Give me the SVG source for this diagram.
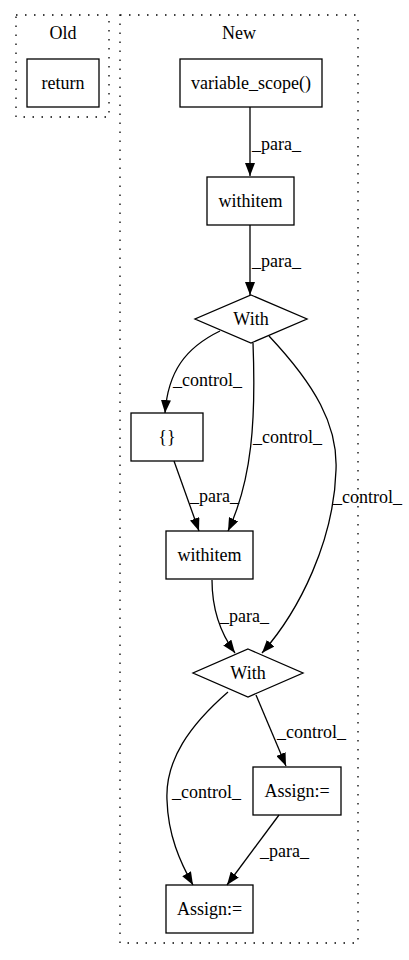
<svg xmlns="http://www.w3.org/2000/svg" width="409" height="960" viewBox="0 0 409 960">
  <style>
    text { font-family: "Liberation Serif", "Times New Roman", serif; font-size: 18px; fill: #000; }
    .c { text-anchor: middle; }
    .cluster { fill: none; stroke: #000; stroke-width: 1.3; stroke-dasharray: 1.5 7.5; }
    .node { fill: #fff; stroke: #000; stroke-width: 1.3; }
    .edge { fill: none; stroke: #000; stroke-width: 1.3; marker-end: url(#arrow); }
  </style>
  <defs>
    <marker id="arrow" markerUnits="userSpaceOnUse" markerWidth="13" markerHeight="10" refX="13" refY="5" orient="auto">
      <path d="M0,0 L13,5 L0,10 z" fill="#000"/>
    </marker>
  </defs>
  <rect width="409" height="960" fill="#fff"/>

  <!-- clusters -->
  <g id="cluster_old">
    <rect class="cluster" x="16" y="15" width="93" height="102"/>
    <text class="c" x="63" y="39">Old</text>
  </g>
  <g id="cluster_new">
    <rect class="cluster" x="120" y="15" width="238" height="928"/>
    <text class="c" x="239" y="39">New</text>
  </g>

  <!-- nodes -->
  <g id="n_return">
    <rect class="node" x="27" y="59" width="72" height="48"/>
    <text class="c" x="63" y="89">return</text>
  </g>
  <g id="n_variable_scope">
    <rect class="node" x="180" y="59" width="142" height="48"/>
    <text class="c" x="251" y="89">variable_scope()</text>
  </g>
  <g id="n_withitem1">
    <rect class="node" x="207" y="177" width="87" height="48"/>
    <text class="c" x="250.5" y="207">withitem</text>
  </g>
  <g id="n_with1">
    <polygon class="node" points="251,295 307,319 251,343 195,319"/>
    <text class="c" x="251" y="325">With</text>
  </g>
  <g id="n_braces">
    <rect class="node" x="131" y="413" width="72" height="48"/>
    <text class="c" x="167" y="443">{}</text>
  </g>
  <g id="n_withitem2">
    <rect class="node" x="166" y="531" width="87" height="48"/>
    <text class="c" x="209.5" y="561">withitem</text>
  </g>
  <g id="n_with2">
    <polygon class="node" points="248,649 303,673 248,697 193,673"/>
    <text class="c" x="248" y="679">With</text>
  </g>
  <g id="n_assign1">
    <rect class="node" x="253" y="767" width="88" height="48"/>
    <text class="c" x="297" y="797">Assign:=</text>
  </g>
  <g id="n_assign2">
    <rect class="node" x="166" y="885" width="87" height="48"/>
    <text class="c" x="209.5" y="915">Assign:=</text>
  </g>

  <!-- connectors -->
  <g id="edges">
    <path class="edge" d="M250,107 L250,176"/>
    <text x="252" y="150">_para_</text>

    <path class="edge" d="M250,225 L250,295"/>
    <text x="252" y="267">_para_</text>

    <path class="edge" d="M220,331 C185,348 168,372 165,413"/>
    <text x="173" y="386">_control_</text>

    <path class="edge" d="M253,343 C256,420 252,480 228,531"/>
    <text x="253" y="443">_control_</text>

    <path class="edge" d="M269,336 C315,385 338,425 336,470 C334,540 300,610 262,653"/>
    <text x="333" y="503">_control_</text>

    <path class="edge" d="M174,461 L199,531"/>
    <text x="190" y="502">_para_</text>

    <path class="edge" d="M212,580 C212,610 221,634 235,653"/>
    <text x="220" y="622">_para_</text>

    <path class="edge" d="M256,695 L286,766"/>
    <text x="277" y="738">_control_</text>

    <path class="edge" d="M228,692 C190,725 165,760 167,800 C168,835 180,862 193,885"/>
    <text x="172" y="798">_control_</text>

    <path class="edge" d="M279,815 L227,885"/>
    <text x="260" y="857">_para_</text>
  </g>
</svg>
